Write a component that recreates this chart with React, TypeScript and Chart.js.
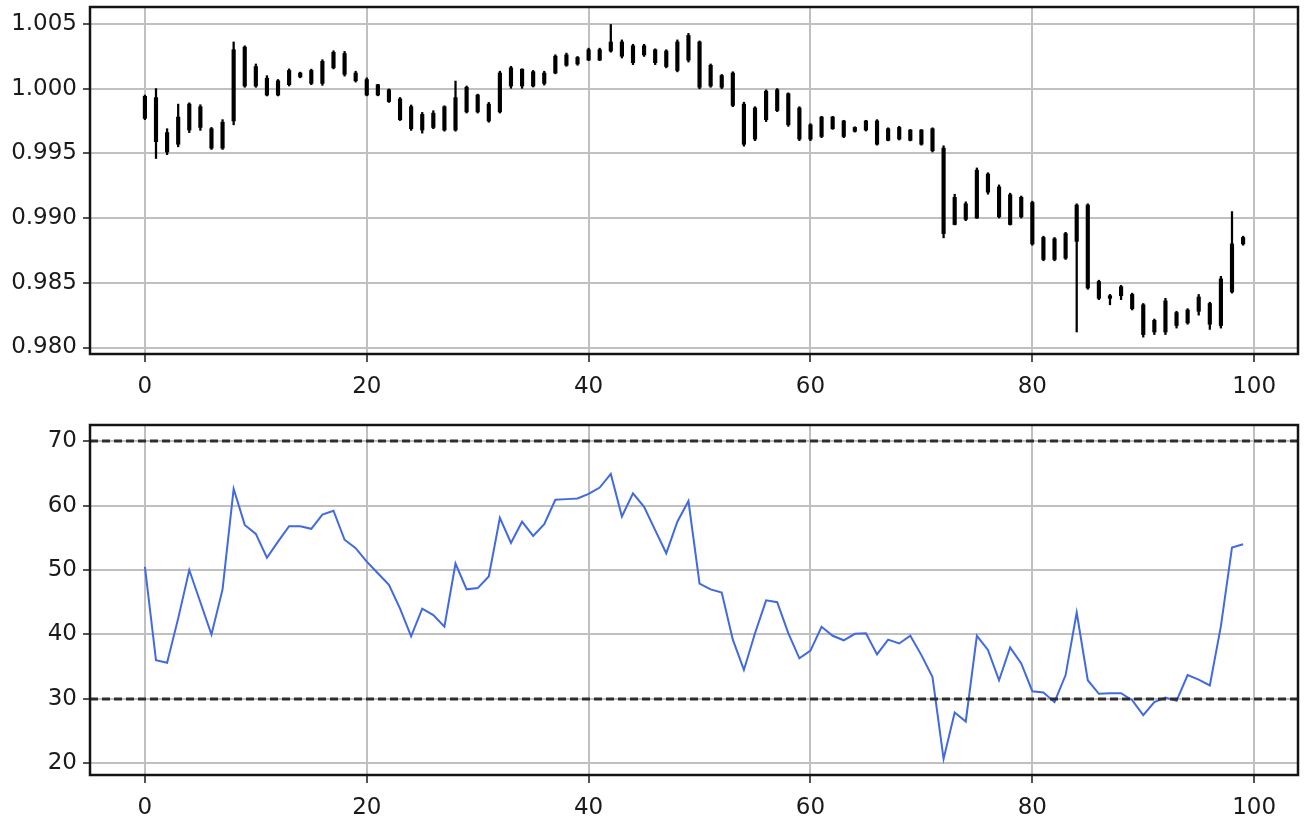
import React, { useEffect, useRef } from 'react';
import { Chart, registerables } from 'chart.js';
Chart.register(...registerables);

const highs = [
  0.99950, 1.00000, 0.99690, 0.99880, 0.99890, 0.99875, 0.99700, 0.99760, 1.00360, 1.00330,
  1.00190, 1.00100, 1.00070, 1.00152, 1.00127, 1.00150, 1.00223, 1.00292, 1.00287, 1.00134,
  1.00083, 1.00033, 0.99997, 0.99931, 0.99873, 0.99816, 0.99829, 0.99867, 1.00058, 1.00020,
  0.99957, 0.99893, 1.00134, 1.00172, 1.00152, 1.00140, 1.00134, 1.00261, 1.00274, 1.00248,
  1.00312, 1.00312, 1.00495, 1.00376, 1.00342, 1.00342, 1.00307, 1.00300, 1.00376, 1.00426,
  1.00368, 1.00190, 1.00109, 1.00130, 0.99895, 0.99860, 0.99990, 1.00000, 0.99967, 0.99860,
  0.99729, 0.99786, 0.99786, 0.99755, 0.99705, 0.99755, 0.99760, 0.99697, 0.99709, 0.99684,
  0.99684, 0.99697, 0.99558, 0.99184, 0.99125, 0.99387, 0.99350, 0.99256, 0.99192, 0.99170,
  0.99130, 0.98860, 0.98850, 0.98890, 0.99110, 0.99110, 0.98520, 0.98410, 0.98480, 0.98420,
  0.98340, 0.98220, 0.98380, 0.98280, 0.98300, 0.98410, 0.98350, 0.98550, 0.99050, 0.98860,
];

const lows = [
  0.99760, 0.99460, 0.99490, 0.99550, 0.99660, 0.99677, 0.99530, 0.99530, 0.99720, 1.00010,
  1.00010, 0.99943, 0.99943, 1.00020, 1.00083, 1.00030, 1.00025, 1.00152, 1.00096, 1.00050,
  0.99944, 0.99944, 0.99893, 0.99753, 0.99677, 0.99656, 0.99690, 0.99671, 0.99671, 0.99811,
  0.99811, 0.99740, 0.99811, 1.00002, 1.00002, 1.00012, 1.00027, 1.00114, 1.00172, 1.00180,
  1.00216, 1.00216, 1.00281, 1.00236, 1.00185, 1.00248, 1.00185, 1.00160, 1.00129, 1.00205,
  0.99998, 1.00010, 1.00000, 0.99860, 0.99555, 0.99598, 0.99745, 0.99822, 0.99708, 0.99598,
  0.99598, 0.99621, 0.99685, 0.99621, 0.99664, 0.99672, 0.99563, 0.99596, 0.99603, 0.99596,
  0.99563, 0.99510, 0.98847, 0.98947, 0.98980, 0.98998, 0.99184, 0.99000, 0.98946, 0.99000,
  0.98790, 0.98670, 0.98670, 0.98680, 0.98120, 0.98450, 0.98370, 0.98330, 0.98370, 0.98290,
  0.98080, 0.98100, 0.98100, 0.98150, 0.98180, 0.98250, 0.98140, 0.98150, 0.98420, 0.98790,
];

const opens = [
  0.99940, 0.99930, 0.99660, 0.99570, 0.99680, 0.99860, 0.99690, 0.99540, 0.99750, 1.00320,
  1.00170, 1.00080, 0.99950, 1.00030, 1.00120, 1.00040, 1.00040, 1.00160, 1.00270, 1.00120,
  1.00070, 1.00030, 0.99990, 0.99920, 0.99860, 0.99680, 0.99810, 0.99860, 0.99680, 1.00010,
  0.99820, 0.99750, 0.99820, 1.00160, 1.00020, 1.00130, 1.00040, 1.00120, 1.00180, 1.00190,
  1.00220, 1.00220, 1.00290, 1.00360, 1.00200, 1.00330, 1.00300, 1.00290, 1.00140, 1.00220,
  1.00360, 1.00180, 1.00100, 1.00120, 0.99880, 0.99610, 0.99760, 0.99990, 0.99960, 0.99850,
  0.99610, 0.99630, 0.99780, 0.99750, 0.99670, 0.99680, 0.99750, 0.99600, 0.99700, 0.99600,
  0.99680, 0.99690, 0.99540, 0.98950, 0.99110, 0.99000, 0.99340, 0.99240, 0.98950, 0.99160,
  0.99120, 0.98850, 0.98840, 0.98690, 0.98820, 0.99100, 0.98510, 0.98380, 0.98400, 0.98410,
  0.98330, 0.98120, 0.98120, 0.98270, 0.98190, 0.98280, 0.98340, 0.98170, 0.98430, 0.98800,
];

const closes = [
  0.99770, 0.99590, 0.99510, 0.99780, 0.99880, 0.99700, 0.99540, 0.99740, 1.00300, 1.00020,
  1.00020, 0.99950, 1.00060, 1.00140, 1.00090, 1.00140, 1.00210, 1.00280, 1.00110, 1.00060,
  0.99950, 0.99950, 0.99900, 0.99760, 0.99690, 0.99800, 0.99700, 0.99680, 0.99930, 0.99820,
  0.99950, 0.99880, 1.00120, 1.00020, 1.00150, 1.00020, 1.00120, 1.00250, 1.00260, 1.00240,
  1.00300, 1.00300, 1.00360, 1.00250, 1.00330, 1.00260, 1.00200, 1.00170, 1.00360, 1.00410,
  1.00010, 1.00020, 1.00010, 0.99870, 0.99570, 0.99850, 0.99980, 0.99830, 0.99720, 0.99610,
  0.99720, 0.99780, 0.99690, 0.99630, 0.99700, 0.99750, 0.99570, 0.99690, 0.99610, 0.99680,
  0.99570, 0.99520, 0.98880, 0.99160, 0.98990, 0.99370, 0.99200, 0.99010, 0.99180, 0.99010,
  0.98800, 0.98680, 0.98680, 0.98880, 0.99100, 0.98460, 0.98380, 0.98400, 0.98470, 0.98300,
  0.98100, 0.98210, 0.98360, 0.98170, 0.98290, 0.98390, 0.98180, 0.98530, 0.98800, 0.98850,
];

const rsi = [
  50.5, 36.0, 35.6, 42.5, 50.0, 45.0, 40.0, 47.0, 62.6, 57.0,
  55.6, 51.9, 54.4, 56.8, 56.8, 56.4, 58.6, 59.2, 54.7, 53.4,
  51.3, 49.5, 47.7, 44.0, 39.7, 44.0, 43.0, 41.2, 51.0, 47.0,
  47.2, 49.0, 58.1, 54.2, 57.5, 55.3, 57.1, 60.9, 61.0, 61.1,
  61.8, 62.8, 64.9, 58.3, 61.9, 59.8, 56.2, 52.6, 57.5, 60.7,
  47.9, 47.0, 46.5, 39.2, 34.5, 40.2, 45.3, 45.0, 40.2, 36.3,
  37.5, 41.2, 39.8, 39.1, 40.1, 40.2, 36.9, 39.2, 38.6, 39.8,
  36.8, 33.4, 20.7, 27.9, 26.5, 39.8, 37.6, 32.9, 38.0, 35.5,
  31.2, 31.0, 29.5, 33.7, 43.4, 32.9, 30.8, 30.9, 30.9, 29.8,
  27.5, 29.5, 30.2, 29.7, 33.7, 33.0, 32.1, 41.3, 53.5, 54.0,
];

const rsiLevels = [70, 30];
const xTicks = [0, 20, 40, 60, 80, 100];
const priceTicks = [0.980, 0.985, 0.990, 0.995, 1.000, 1.005];
const rsiTicks = [20, 30, 40, 50, 60, 70];
const xRange = [-4.95, 103.95];
const priceRange = [0.9795, 1.0063];
const rsiRange = [18.2, 72.5];

const FONT = { family: 'DejaVu Sans', size: 23 };
const TEXT = '#1a1a1a';
const GRID = '#c0c0c0';

const framePlugin = {
  id: 'frame',
  afterDatasetsDraw(chart: any) {
    const { ctx, chartArea } = chart;
    const { left, top, right, bottom } = chartArea;
    ctx.save();
    ctx.strokeStyle = '#141414';
    ctx.lineWidth = 2.5;
    ctx.strokeRect(left, top, right - left, bottom - top);
    ctx.restore();
  },
};

function xScale(axisHeight: number) {
  return {
    type: 'linear',
    min: xRange[0],
    max: xRange[1],
    offset: false,
    afterBuildTicks: (s: any) => { s.ticks = xTicks.map((v) => ({ value: v })); },
    afterFit: (s: any) => {
      s.height = axisHeight;
      s.paddingLeft = 0;
      s.paddingRight = 0;
    },
    grid: { color: GRID, lineWidth: 2, offset: false, drawTicks: true, tickLength: 8, tickColor: TEXT, tickWidth: 1.5 },
    border: { display: false },
    ticks: { font: FONT, color: TEXT, padding: 11, maxRotation: 0, callback: (v: any) => String(v) },
  };
}

function yScale(range: number[], ticks: number[], digits: number) {
  return {
    type: 'linear',
    min: range[0],
    max: range[1],
    afterBuildTicks: (s: any) => { s.ticks = ticks.map((v) => ({ value: v })); },
    afterFit: (s: any) => {
      s.width = 90;
      s.paddingTop = 0;
      s.paddingBottom = 0;
    },
    grid: { color: GRID, lineWidth: 2, drawTicks: true, tickLength: 7, tickColor: TEXT, tickWidth: 1.5 },
    border: { display: false },
    ticks: { font: FONT, color: TEXT, padding: 6, callback: (v: any) => Number(v).toFixed(digits) },
  };
}

export default function App() {
  const topRef = useRef<HTMLCanvasElement>(null);
  const botRef = useRef<HTMLCanvasElement>(null);

  useEffect(() => {
    const top = new Chart(topRef.current as HTMLCanvasElement, {
      type: 'bar',
      data: {
        datasets: [
          {
            data: highs.map((h, i) => ({ x: i, y: [lows[i], h] })),
            backgroundColor: '#000000',
            barThickness: 1.6,
            grouped: false,
            order: 2,
          } as any,
          {
            data: opens.map((o, i) => ({ x: i, y: [o, closes[i]] })),
            backgroundColor: '#000000',
            barThickness: 3.5,
            grouped: false,
            order: 1,
          } as any,
        ],
      },
      options: {
        animation: false,
        responsive: false,
        maintainAspectRatio: false,
        layout: { padding: { left: 0, right: 7, top: 7, bottom: 0 } },
        plugins: { legend: { display: false }, tooltip: { enabled: false } },
        scales: {
          x: xScale(56) as any,
          y: yScale(priceRange, priceTicks, 3) as any,
        },
      },
      plugins: [framePlugin],
    });

    const bot = new Chart(botRef.current as HTMLCanvasElement, {
      type: 'line',
      data: {
        datasets: [
          ...rsiLevels.map((lv) => ({
            data: [{ x: xRange[0], y: lv }, { x: xRange[1], y: lv }],
            borderColor: '#2e2e2e',
            borderWidth: 3,
            borderDash: [8, 4],
            pointRadius: 0,
            fill: false,
          })),
          {
            data: rsi.map((v, i) => ({ x: i, y: v })),
            borderColor: '#4169e1',
            borderWidth: 2,
            pointRadius: 0,
            tension: 0,
            fill: false,
          },
        ] as any,
      },
      options: {
        animation: false,
        responsive: false,
        maintainAspectRatio: false,
        layout: { padding: { left: 0, right: 7, top: 15, bottom: 0 } },
        plugins: { legend: { display: false }, tooltip: { enabled: false } },
        scales: {
          x: xScale(47) as any,
          y: yScale(rsiRange, rsiTicks, 0) as any,
        },
      },
      plugins: [framePlugin],
    });

    return () => {
      top.destroy();
      bot.destroy();
    };
  }, []);

  return (
    <div style={{ position: 'absolute', left: 0, top: 0, width: 1305, height: 822, background: '#ffffff' }}>
      <canvas ref={topRef} width={1305} height={410} style={{ position: 'absolute', left: 0, top: 0, display: 'block' }} />
      <canvas ref={botRef} width={1305} height={412} style={{ position: 'absolute', left: 0, top: 410, display: 'block' }} />
    </div>
  );
}
